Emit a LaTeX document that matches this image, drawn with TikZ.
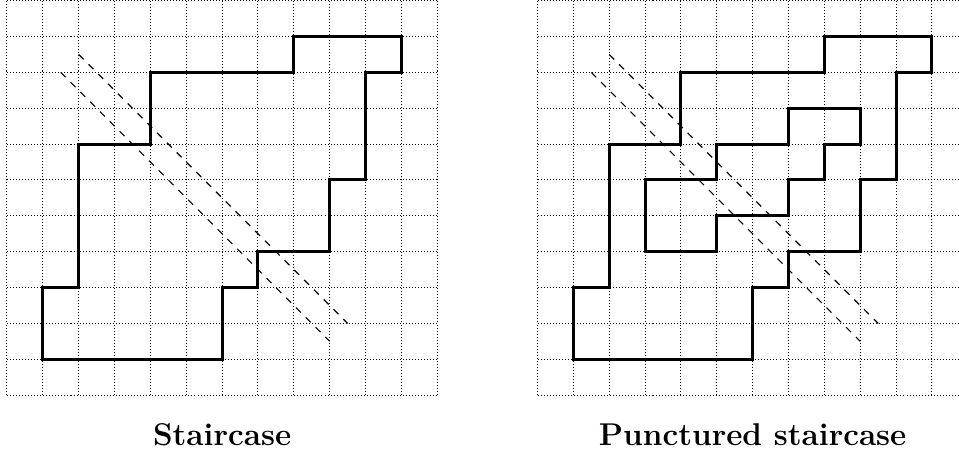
\documentclass[tikz,border=0pt]{standalone}
\usepackage{tikz}

\begin{document}
\begin{tikzpicture}[>=latex]
  % Frame of the page (the right grid runs off the edge).
  \useasboundingbox (-0.195,-1.73) rectangle (26.555,11.02);
  \clip (-0.195,-1.73) rectangle (26.555,11.02);
  % Line styles.
  \tikzset{
    gridline/.style={dash pattern=on 0.8pt off 1.6pt,line width=0.8pt},
    wall/.style={line width=2.4pt,line join=miter},
    diag/.style={dash pattern=on 5.5pt off 5.5pt,line width=0.9pt},
    caption/.style={anchor=base,font=\fontsize{25}{30}\selectfont\bfseries}
  }
  % Left panel: staircase.
  \begin{scope}
    \draw[gridline] (0,0) grid (12,11);
    % Boundary of the staircase.
    \draw[wall] (1,1) -- (1,3) -- (2,3) -- (2,7) -- (4,7) -- (4,9) -- (8,9)
      -- (8,10) -- (11,10) -- (11,9) -- (10,9) -- (10,6) -- (9,6) -- (9,4)
      -- (7,4) -- (7,3) -- (6,3) -- (6,1) -- cycle;
    % Two parallel diagonals (x+y = 11.5 and x+y = 10.5).
    \draw[diag] (2,9.5) -- (9.5,2);
    \draw[diag] (1.5,9) -- (9,1.5);
    \node[caption] (stairlabel) at (6,-1.42) {Staircase};
  \end{scope}
  % Right panel: same staircase with a hole cut out.
  \begin{scope}[xshift=14.8cm]
    \draw[gridline] (0,0) grid (12,11);
    % Outer boundary.
    \draw[wall] (1,1) -- (1,3) -- (2,3) -- (2,7) -- (4,7) -- (4,9) -- (8,9)
      -- (8,10) -- (11,10) -- (11,9) -- (10,9) -- (10,6) -- (9,6) -- (9,4)
      -- (7,4) -- (7,3) -- (6,3) -- (6,1) -- cycle;
    % Boundary of the hole.
    \draw[wall] (3,4) -- (3,6) -- (5,6) -- (5,7) -- (7,7) -- (7,8) -- (9,8)
      -- (9,7) -- (8,7) -- (8,6) -- (7,6) -- (7,5) -- (5,5) -- (5,4) -- cycle;
    % Diagonals.
    \draw[diag] (2,9.5) -- (9.5,2);
    \draw[diag] (1.5,9) -- (9,1.5);
    \node[caption] (punctlabel) at (6,-1.42) {Punctured staircase};
  \end{scope}
\end{tikzpicture}
\end{document}
